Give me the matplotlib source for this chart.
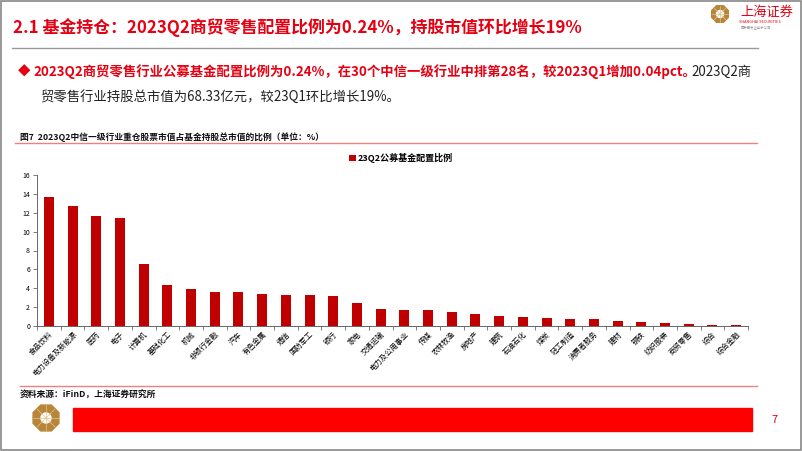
import matplotlib
matplotlib.use("Agg")
import numpy as np
import matplotlib.pyplot as plt
from matplotlib.patches import Rectangle, RegularPolygon, Circle

plt.rcParams["font.family"] = ["Noto Sans CJK SC", "DejaVu Sans"]

# data
industries = ["食品饮料", "电力设备及新能源", "医药", "电子", "计算机", "基础化工", "机械",
              "非银行金融", "汽车", "有色金属", "通信", "国防军工", "银行", "家电", "交通运输",
              "电力及公用事业", "传媒", "农林牧渔", "房地产", "建筑", "石油石化", "煤炭",
              "轻工制造", "消费者服务", "建材", "钢铁", "纺织服装", "商贸零售", "综合", "综合金融"]
ratio = [13.65, 12.75, 11.7, 11.4, 6.6, 4.35, 3.92, 3.63, 3.56, 3.36, 3.29, 3.24, 3.2, 2.4, 1.77,
         1.7, 1.66, 1.47, 1.3, 1.06, 0.92, 0.81, 0.71, 0.71, 0.57, 0.46, 0.33, 0.24, 0.07, 0.07]
series_name = "23Q2公募基金配置比例"
yticks = [0, 2, 4, 6, 8, 10, 12, 14, 16]

W, H = 802, 451
RED = "#E60012"
BAR = "#C00000"
GOLD = "#B8863B"

fig = plt.figure(figsize=(W / 100, H / 100), dpi=100)

# overlay in pixel coordinates (y grows downward) for the slide decoration
deco = fig.add_axes([0, 0, 1, 1], zorder=-1)
deco.set_xlim(0, W)
deco.set_ylim(H, 0)
deco.axis("off")


def fx(x):
    return x / W


def fy(y):
    return 1 - y / H


def octagon(cx, cy, r, hole):
    deco.add_patch(RegularPolygon((cx, cy), 8, radius=r, color=GOLD, orientation=np.pi / 8))
    for a in np.arange(8) * np.pi / 4:
        deco.plot([cx, cx + r * 0.9 * np.cos(a)], [cy, cy + r * 0.9 * np.sin(a)],
                  color="#E2C48A", lw=0.5)
    deco.add_patch(Circle((cx, cy), hole, color="white"))


# slide frame
deco.add_patch(Rectangle((1, 1), W - 2, H - 2, fill=False, ec="#888888", lw=1.2))

# title
deco.text(13, 28, "2.1 基金持仓：2023Q2商贸零售配置比例为0.24%，持股市值环比增长19%",
          color=RED, fontsize=12.2, fontweight="bold", va="center")
deco.plot([12, 758], [48, 48], color="#9a9a9a", lw=1.0)

# logo top right
octagon(720, 14, 9, 3.5)
deco.text(740, 12, "上海证券", color=RED, fontsize=9.5, va="center")
deco.text(739, 22, "SHANGHAI SECURITIES", color=RED, fontsize=2.8, va="center")
deco.text(741, 27, "国泰君安证券子公司", color="#999999", fontsize=2.4, va="center")

# bullet paragraph
renderer = fig.canvas.get_renderer()
deco.text(18, 72, "◆", color=RED, fontsize=9, va="center")
t1 = deco.text(33, 72,
               "2023Q2商贸零售行业公募基金配置比例为0.24%，在30个中信一级行业中排第28名，较2023Q1增加0.04pct。",
               color=RED, fontsize=9.6, fontweight="bold", va="center")
bb = t1.get_window_extent(renderer)
fig.text(bb.x1 / (W) - 0.006, fy(72), "2023Q2商",
         color="#222222", fontsize=9.6, va="center")
deco.text(40, 97, "贸零售行业持股总市值为68.33亿元，较23Q1环比增长19%。",
          color="#222222", fontsize=9.6, va="center")

# figure caption
deco.text(20, 137, "图7  2023Q2中信一级行业重仓股票市值占基金持股总市值的比例（单位：%）",
          color="#111111", fontsize=6.3, fontweight="bold", va="center")
deco.plot([15, 757], [143, 143], color="#F08080", lw=1.0)

# chart
ax = fig.add_axes([fx(37), fy(326), fx(748) - fx(37), fy(175) - fy(326)])
x = list(range(len(industries)))
ax.bar(x, ratio, width=0.42, color=BAR, label=series_name)
ax.set_xlim(-0.5, len(industries) - 0.5)
ax.set_ylim(0, 16)
ax.set_yticks(yticks)
ax.tick_params(axis="y", labelsize=5, length=3, width=0.6, color="#666666", pad=2)
ax.set_xticks(x)
ax.set_xticklabels(industries, rotation=45, ha="right", rotation_mode="anchor", fontsize=5.3)
ax.tick_params(axis="x", length=0, pad=3)
ax.set_xticks([i - 0.5 for i in range(len(industries) + 1)], minor=True)
ax.tick_params(axis="x", which="minor", length=3, width=0.6, color="#666666", direction="out")
for s in ["top", "right"]:
    ax.spines[s].set_visible(False)
for s in ["left", "bottom"]:
    ax.spines[s].set_color("#666666")
    ax.spines[s].set_linewidth(0.7)
ax.legend(loc="center", bbox_to_anchor=(0.5, fy(158)), bbox_transform=fig.transFigure,
          frameon=False, prop={"size": 6.5, "weight": "bold"}, handlelength=0.7,
          handleheight=0.7, handletextpad=0.2)

# source
deco.plot([20, 757], [386, 386], color="#F08080", lw=1.0)
deco.text(20, 395, "资料来源：iFinD，上海证券研究所", color="#111111",
          fontsize=6.3, fontweight="bold", style="italic", va="center")

# footer
octagon(46, 418, 14, 5)
deco.add_patch(Rectangle((73, 408), 752 - 73, 23, color="#FF0000"))
deco.text(771, 420, "7", color=RED, fontsize=8, va="center")

fig.savefig("out.png", dpi=100)
